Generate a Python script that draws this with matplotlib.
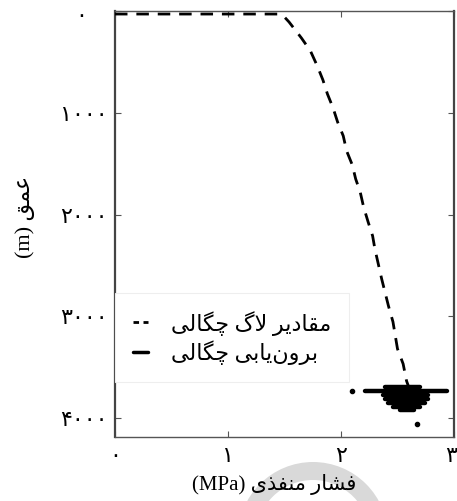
import matplotlib
matplotlib.use("Agg")
import matplotlib.pyplot as plt
from matplotlib.lines import Line2D
from matplotlib.patches import Wedge
from matplotlib.transforms import IdentityTransform, ScaledTranslation

# Formas de presentación para dar forma al texto persa (matplotlib no hace shaping)
FORMAS = {
    # letra: (aislada, final, inicial, media)
    'ا': ('\uFE8D', '\uFE8E', None, None),
    'ب': ('\uFE8F', '\uFE90', '\uFE91', '\uFE92'),
    'د': ('\uFEA9', '\uFEAA', None, None),
    'ذ': ('\uFEAB', '\uFEAC', None, None),
    'ر': ('\uFEAD', '\uFEAE', None, None),
    'ش': ('\uFEB5', '\uFEB6', '\uFEB7', '\uFEB8'),
    'ع': ('\uFEC9', '\uFECA', '\uFECB', '\uFECC'),
    'ف': ('\uFED1', '\uFED2', '\uFED3', '\uFED4'),
    'ق': ('\uFED5', '\uFED6', '\uFED7', '\uFED8'),
    'ل': ('\uFEDD', '\uFEDE', '\uFEDF', '\uFEE0'),
    'م': ('\uFEE1', '\uFEE2', '\uFEE3', '\uFEE4'),
    'ن': ('\uFEE5', '\uFEE6', '\uFEE7', '\uFEE8'),
    'و': ('\uFEED', '\uFEEE', None, None),
    'ی': ('\uFBFC', '\uFBFD', '\uFBFE', '\uFBFF'),
    'گ': ('\uFB92', '\uFB93', '\uFB94', '\uFB95'),
    'چ': ('\uFB7A', '\uFB7B', '\uFB7C', '\uFB7D'),
}


def une_izq(c):
    return c in FORMAS and FORMAS[c][2] is not None


def fa(texto):
    """Da forma a las letras persas y las pone en orden visual (derecha a izquierda)"""
    res = []
    prev = None
    i = 0
    n = len(texto)
    while i < n:
        c = texto[i]
        if c not in FORMAS:
            if c != '\u200c':
                res.append(c)
            prev = None
            i += 1
            continue
        nxt = texto[i + 1] if i + 1 < n else None
        con_prev = prev is not None and une_izq(prev)
        if c == 'ل' and nxt == 'ا':
            res.append('\uFEFC' if con_prev else '\uFEFB')
            prev = 'ا'
            i += 2
            continue
        con_next = une_izq(c) and nxt in FORMAS
        aisl, fin, ini, med = FORMAS[c]
        if con_prev and con_next:
            g = med
        elif con_prev:
            g = fin
        elif con_next:
            g = ini
        else:
            g = aisl
        res.append(g)
        prev = c
        i += 1
    return ''.join(reversed(res))


# Datos: valores de registro de densidad (presión vs profundidad)
presion_log = [0.00, 1.45, 1.50, 1.54, 1.65, 1.73, 1.79, 1.84, 1.88, 1.93, 1.97,
               2.02, 2.05, 2.10, 2.13, 2.17, 2.20, 2.24, 2.28, 2.30, 2.36, 2.42,
               2.46, 2.50, 2.55, 2.58, 2.60]
profundidad_log = [25, 25, 55, 103, 261, 389, 536, 674, 812, 950, 1088,
                   1225, 1373, 1511, 1649, 1777, 1924, 2072, 2210, 2338, 2633, 2899,
                   3056, 3322, 3470, 3637, 3700]

# Extrapolación de densidad: franjas horizontales (profundidad, presión mín, presión máx)
prof_extrap = [3696, 3735, 3775, 3814, 3853, 3893, 3922]
pmin_extrap = [2.39, 2.21, 2.37, 2.39, 2.42, 2.46, 2.52]
pmax_extrap = [2.70, 2.94, 2.77, 2.77, 2.74, 2.70, 2.65]
# puntos sueltos de la extrapolación
p_sueltos = [2.10, 2.67]
d_sueltos = [3735, 4060]

xticks = [0, 1, 2, 3]
xtick_labels = ['۰', '۱', '۲', '۳']
yticks = [0, 1000, 2000, 3000, 4000]
ytick_labels = ['۰', '۱۰۰۰', '۲۰۰۰', '۳۰۰۰', '۴۰۰۰']

etiqueta_log = fa('مقادیر لاگ چگالی')
etiqueta_extrap = fa('برون\u200cیابی چگالی')
xlabel = '(MPa) ' + fa('فشار منفذی')
ylabel = '(m) ' + fa('عمق')

plt.rcParams['font.family'] = ['Liberation Serif', 'DejaVu Sans']

fig = plt.figure(figsize=(4.57, 5.02), dpi=100)
ax = fig.add_axes([0.2516, 0.1265, 0.7418, 0.8486])

# Curva de registro (línea discontinua)
ax.plot(presion_log, profundidad_log, color='black', lw=2.0,
        linestyle=(0, (4.5, 3.2)), zorder=3)

# Extrapolación (mancha negra)
ax.hlines(prof_extrap, pmin_extrap, pmax_extrap, color='black', lw=3.2,
          capstyle='round', zorder=3)
ax.plot(p_sueltos, d_sueltos, 'o', color='black', ms=3, zorder=3)

ax.set_xlim(0, 3)
ax.set_ylim(4195, 0)
ax.set_xticks(xticks)
ax.set_xticklabels(xtick_labels, fontsize=16)
ax.set_yticks(yticks)
ax.set_yticklabels(ytick_labels, fontsize=16)
ax.tick_params(direction='in', length=4, width=0.8, color='#555555',
               top=True, right=True)
ax.tick_params(axis='y', pad=5.5)
ax.tick_params(axis='x', pad=6.5)

# pequeños desplazamientos de etiquetas como en la figura original
ult = ax.get_xticklabels()[-1]
ult.set_transform(ult.get_transform() + ScaledTranslation(-3 / 100, 0, fig.dpi_scale_trans))
cero = ax.get_yticklabels()[0]
cero.set_transform(cero.get_transform() + ScaledTranslation(-20 / 100, -3 / 100, fig.dpi_scale_trans))

for lado in ['left', 'right']:
    ax.spines[lado].set_linewidth(1.6)
    ax.spines[lado].set_color('#444444')
for lado in ['top', 'bottom']:
    ax.spines[lado].set_linewidth(1.0)
    ax.spines[lado].set_color('#555555')

ax.set_xlabel(xlabel, fontsize=15)
ax.xaxis.set_label_coords(0.47, -0.083)
ax.set_ylabel(ylabel, fontsize=16)
ax.yaxis.set_label_coords(-0.235, 0.52)

handles = [
    Line2D([0], [0], color='black', lw=2.0, linestyle=(0, (2.0, 1.6))),
    Line2D([0], [0], color='black', lw=2.5, solid_capstyle='round'),
]
leg = ax.legend(handles, [etiqueta_log, etiqueta_extrap], loc='lower left',
                bbox_to_anchor=(0.0, 0.13), borderaxespad=0, fontsize=16,
                handlelength=0.7, handletextpad=1.0, labelspacing=0.2,
                borderpad=0.8, fancybox=False, framealpha=1.0)
leg.get_frame().set_edgecolor('#eeeeee')
leg.get_frame().set_linewidth(0.8)

# Marca de agua gris (arco) detrás del título del eje x
arco = Wedge((313, -36), 75, 0, 180, width=18, facecolor='#d9d9d9',
             edgecolor='none', transform=IdentityTransform(), zorder=0)
fig.add_artist(arco)

fig.savefig('out.png', dpi=100)
